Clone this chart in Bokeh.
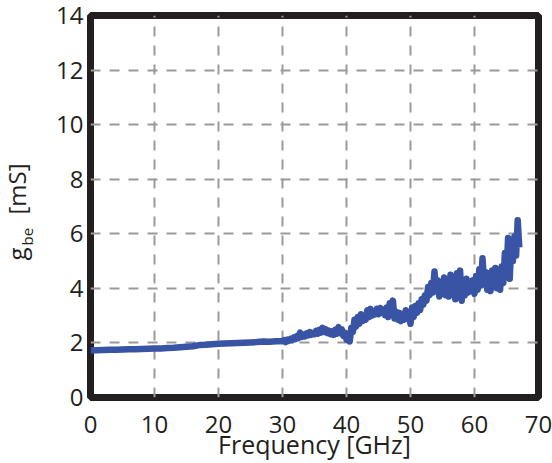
from bokeh.plotting import figure
from bokeh.models import Range1d, FixedTicker
from bokeh.layouts import row
from bokeh.core.properties import value
from bokeh.embed import file_html
from bokeh.resources import INLINE
import math

# ---- data ----
freq_smooth = [0, 1, 2, 3, 4, 5, 6, 7, 8, 9, 10, 11, 12, 13, 14, 15, 16, 17, 18, 19,
               20, 21, 22, 23, 24, 25, 26, 27, 28, 29]
gbe_smooth = [1.72, 1.73, 1.74, 1.75, 1.75, 1.76, 1.77, 1.77, 1.78, 1.79, 1.80, 1.80,
              1.81, 1.82, 1.84, 1.86, 1.88, 1.92, 1.93, 1.95, 1.97, 1.98, 1.99, 2.00,
              2.01, 2.02, 2.03, 2.05, 2.04, 2.06]

freq_noisy_start = 30.0
freq_noisy_step = 0.25
gbe_noisy = [
    2.06, 2.10, 2.03, 2.12, 2.08, 2.15, 2.10, 2.20, 2.14, 2.25, 2.18, 2.38, 2.22, 2.30,
    2.24, 2.35, 2.28, 2.40, 2.30, 2.36, 2.32, 2.44, 2.34, 2.48, 2.38, 2.55, 2.40, 2.50,
    2.36, 2.45, 2.32, 2.42, 2.30, 2.48, 2.34, 2.58, 2.36, 2.50, 2.26, 2.38, 2.12,
    2.30, 2.05, 2.55, 2.40, 2.85, 2.60, 2.95, 2.70, 3.05, 2.80, 3.00, 2.85, 3.20, 2.95,
    3.25, 3.00, 3.15, 3.05, 3.25, 3.05, 3.28, 3.10, 3.22, 3.02, 3.30, 2.95, 3.45, 3.10,
    3.55, 2.90, 3.15, 2.85, 3.10, 2.80, 3.05, 2.85, 3.20, 2.90, 3.10, 2.70, 3.30, 2.95,
    3.35, 3.10, 3.45, 3.20, 3.60, 3.40, 3.75, 3.55, 4.05, 3.75, 4.20, 3.85, 4.62, 3.90,
    4.30, 3.70, 4.20, 3.80, 4.40, 3.75, 4.25, 3.70, 4.50, 3.85, 4.40, 3.60, 4.55, 3.80,
    4.65, 3.55, 4.20, 3.75, 4.35, 3.85, 4.25, 3.90, 4.30, 3.80, 4.45, 3.95, 4.70, 4.10,
    5.10, 4.20, 4.60, 3.95, 4.55, 3.90, 4.65, 4.05, 4.75, 4.00, 4.55, 3.95, 4.80, 4.20,
    5.30, 4.60, 5.85, 4.35, 5.60, 5.00, 5.90, 5.20, 6.50, 5.50,
]
freq_noisy = [freq_noisy_start + i * freq_noisy_step for i in range(len(gbe_noisy))]

freq = freq_smooth + freq_noisy
gbe = gbe_smooth + gbe_noisy

x_ticks = [0, 10, 20, 30, 40, 50, 60, 70]
y_ticks = [0, 2, 4, 6, 8, 10, 12, 14]

x_title = "Frequency [GHz]"
y_title_main = "g"
y_title_sub = "be"
y_title_unit = "[mS]"

FONT = "Open Sans"
INK = "#231f20"
W, H = 552, 463
LABEL_W = 45
TOP, BOTTOM = 15, 66

# ---- main plot ----
p = figure(width=W - LABEL_W, height=H, output_backend="svg", toolbar_location=None,
           x_range=Range1d(0, 70), y_range=Range1d(0, 14),
           min_border_left=90 - LABEL_W, min_border_right=14, min_border_top=TOP,
           min_border_bottom=BOTTOM)
p.background_fill_color = "white"
p.border_fill_color = "white"

p.line(freq, gbe, line_color="#3a54a5", line_width=6.5, line_join="round")

for ax in (p.xaxis, p.yaxis):
    ax.axis_line_color = None
    ax.major_tick_line_color = None
    ax.minor_tick_line_color = None
    ax.major_tick_out = 0
    ax.major_tick_in = 0
    ax.major_label_text_font = FONT
    ax.major_label_text_font_size = "24px"
    ax.major_label_text_color = INK
p.xaxis.ticker = FixedTicker(ticks=x_ticks)
p.yaxis.ticker = FixedTicker(ticks=y_ticks)
p.xaxis.major_label_standoff = 18
p.yaxis.major_label_standoff = 7

p.xaxis.axis_label = x_title
p.xaxis.axis_label_text_font = FONT
p.xaxis.axis_label_text_font_size = "25px"
p.xaxis.axis_label_text_font_style = "normal"
p.xaxis.axis_label_text_color = INK
p.xaxis.axis_label_standoff = -9

for g in (p.xgrid, p.ygrid):
    g.grid_line_color = "#9a9a9a"
    g.grid_line_width = 2
    g.grid_line_dash = "10 9"
p.xgrid.ticker = FixedTicker(ticks=x_ticks)
p.ygrid.ticker = FixedTicker(ticks=y_ticks)

p.outline_line_color = INK
p.outline_line_width = 7
p.outline_line_alpha = 1

# ---- y-title strip (its frame is aligned with the main frame) ----
q = figure(width=LABEL_W, height=H, output_backend="svg", toolbar_location=None,
           x_range=Range1d(0, LABEL_W), y_range=Range1d(BOTTOM, H - TOP),
           min_border=0, min_border_left=0, min_border_right=0,
           min_border_top=TOP, min_border_bottom=BOTTOM)
q.axis.visible = False
q.grid.visible = False
q.outline_line_color = None
q.background_fill_color = "white"
q.border_fill_color = "white"

q.text(x=[16], y=[H - 260], text=[y_title_main], angle=math.pi / 2,
       text_align="left", text_baseline="alphabetic",
       text_font=value(FONT), text_font_size="24px", text_color=INK)
q.text(x=[26], y=[H - 245], text=[y_title_sub], angle=math.pi / 2,
       text_align="left", text_baseline="alphabetic",
       text_font=value(FONT), text_font_size="15px", text_color=INK)
q.text(x=[16], y=[H - 214], text=[y_title_unit], angle=math.pi / 2,
       text_align="left", text_baseline="alphabetic",
       text_font=value(FONT), text_font_size="24px", text_color=INK)

layout = row(q, p, spacing=0)
open("out.html", "w").write(file_html(layout, INLINE))
